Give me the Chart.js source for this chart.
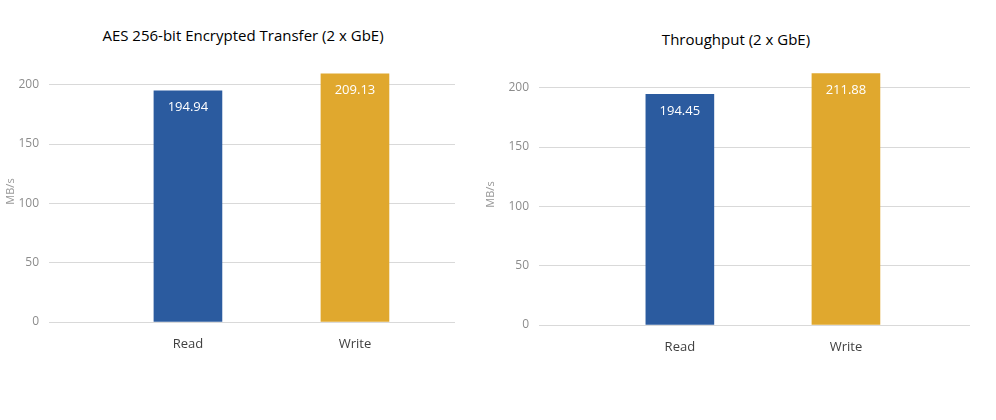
<!DOCTYPE html>
<html><head><meta charset="utf-8">
<script src="https://cdn.jsdelivr.net/npm/chart.js@4"></script>
<style>
body{margin:0;width:996px;height:420px;background:#fff;position:relative;overflow:hidden;font-family:"Open Sans",sans-serif}
.t{position:absolute;font-size:15px;color:#000;white-space:nowrap;transform:translateX(-50%)}
canvas{position:absolute;top:0}
</style></head><body>
<div class="t" style="left:243px;top:25px">AES 256-bit Encrypted Transfer (2 x GbE)</div>
<div class="t" style="left:736px;top:29px">Throughput (2 x GbE)</div>
<div style="position:absolute;left:0;top:0;width:480px;height:420px"><canvas id="c1"></canvas></div>
<div style="position:absolute;left:480px;top:0;width:516px;height:420px"><canvas id="c2"></canvas></div>
<script>
const categories=['Read','Write'];
const aesValues=[194.94,209.13];
const throughputValues=[194.45,211.88];
const yTicks=[0,50,100,150,200];
const colors=['#2B5B9F','#E0A82E'];

const labelPlugin={id:'lbl',afterDatasetsDraw(ch){const c=ch.ctx;const m=ch.getDatasetMeta(0);c.save();c.fillStyle='#fff';c.font='13px "Open Sans"';c.textAlign='center';c.textBaseline='top';
m.data.forEach((el,i)=>{c.fillText(ch.data.datasets[0].data[i].y.toFixed(2),el.x,el.y+10);});c.restore();}};

function make(id,vals,xmin,xmax,padL,padR,top,bottom,W){
  new Chart(document.getElementById(id),{type:'bar',
   data:{datasets:[{data:categories.map((c,i)=>({x:i,y:vals[i]})),backgroundColor:colors,barThickness:68}]},
   options:{responsive:true,maintainAspectRatio:false,animation:false,
    layout:{padding:{left:padL,right:padR,top:top,bottom:0}},
    plugins:{legend:{display:false},tooltip:{enabled:false}},
    scales:{
     x:{type:'linear',min:xmin,max:xmax,offset:false,bounds:'ticks',grid:{display:false,offset:false},border:{display:false},
        afterBuildTicks:s=>{s.ticks=[{value:0},{value:1}]},
        afterFit:s=>{s.height=420-bottom},
        ticks:{callback:v=>categories[v],color:'#404040',font:{size:13,family:'"Open Sans"'},padding:6}},
     y:{min:0,max:220,grid:{color:'#d9d9d9'},border:{display:false},
        afterBuildTicks:s=>{s.ticks=yTicks.map(v=>({value:v}))},
        afterFit:s=>{s.width=W},
        title:{display:true,text:'MB/s',color:'#999',font:{size:11,family:'"Open Sans"'}},
        ticks:{color:'#8c8c8c',font:{size:12,family:'"Open Sans"'},padding:10}}
    }},plugins:[labelPlugin]});
}
make('c1',aesValues,-0.784,1.599,0,25,61,322,57);
make('c2',throughputValues,-0.80,1.747,0,26,64,325,67);
</script></body></html>
